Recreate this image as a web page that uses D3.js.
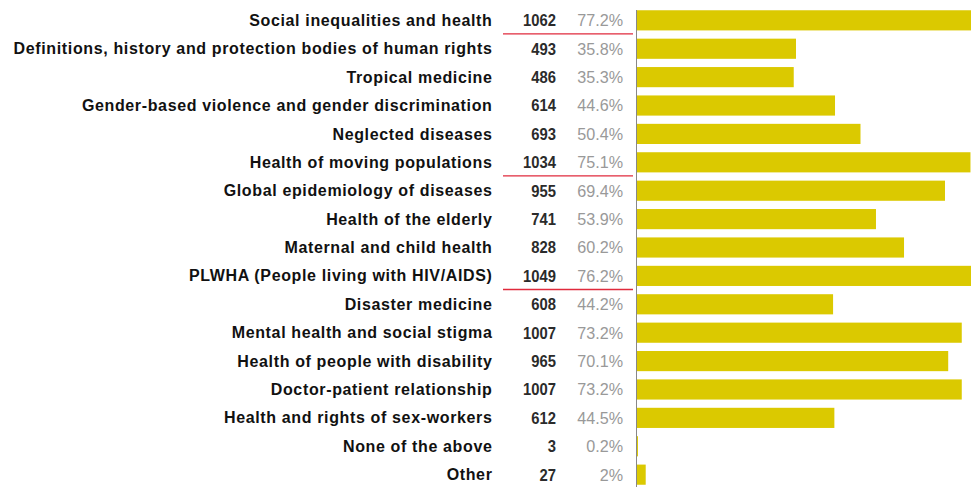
<!DOCTYPE html>
<html>
<head>
<meta charset="utf-8">
<script src="https://cdn.jsdelivr.net/npm/d3@7"></script>
<style>
  html, body { margin: 0; padding: 0; background: #fff; }
  svg { display: block; }
</style>
</head>
<body>
<svg id="chart" width="971" height="487"></svg>
<script>
// Topics and how many respondents chose each one
const topics = [
  "Social inequalities and health",
  "Definitions, history and protection bodies of human rights",
  "Tropical medicine",
  "Gender-based violence and gender discrimination",
  "Neglected diseases",
  "Health of moving populations",
  "Global epidemiology of diseases",
  "Health of the elderly",
  "Maternal and child health",
  "PLWHA (People living with HIV/AIDS)",
  "Disaster medicine",
  "Mental health and social stigma",
  "Health of people with disability",
  "Doctor-patient relationship",
  "Health and rights of sex-workers",
  "None of the above",
  "Other"
];
const counts = [1062, 493, 486, 614, 693, 1034, 955, 741, 828, 1049, 608, 1007, 965, 1007, 612, 3, 27];
const percents = ["77.2%", "35.8%", "35.3%", "44.6%", "50.4%", "75.1%", "69.4%", "53.9%", "60.2%", "76.2%", "44.2%", "73.2%", "70.1%", "73.2%", "44.5%", "0.2%", "2%"];
// Rows followed by a red separator rule
const underlined = [0, 5, 9];

const svg = d3.select("#chart");
const axisX = 637;

const y = d3.scaleBand()
  .domain(d3.range(topics.length))
  .range([6, 489])
  .paddingInner(0.29)
  .paddingOuter(0.15);

const x = d3.scaleLinear()
  .domain([0, 1000])
  .range([axisX, axisX + 322.5]);

const font = "'Liberation Sans', Arial, sans-serif";

const rows = svg.append("g").selectAll("g")
  .data(topics.map((t, i) => ({ t, i, c: counts[i], p: percents[i] })))
  .join("g");

// bars
rows.append("rect")
  .attr("x", axisX)
  .attr("y", d => y(d.i))
  .attr("width", d => x(d.c) - axisX)
  .attr("height", y.bandwidth())
  .attr("fill", "#dbc900");

const mid = d => y(d.i) + y.bandwidth() / 2;

// topic labels
rows.append("text")
  .attr("x", 492.5)
  .attr("y", mid)
  .attr("dy", "0.35em")
  .attr("text-anchor", "end")
  .attr("font-family", font)
  .attr("font-weight", "bold")
  .attr("font-size", 16)
  .attr("letter-spacing", 0.64)
  .attr("fill", "#111")
  .text(d => d.t);

// counts, slightly condensed
rows.append("text")
  .attr("transform", d => `translate(556,${mid(d)}) scale(0.87,1)`)
  .attr("dy", "0.35em")
  .attr("text-anchor", "end")
  .attr("font-family", font)
  .attr("font-weight", "bold")
  .attr("font-size", 17)
  .attr("fill", "#2b2b2b")
  .text(d => d.c);

// percentages
rows.append("text")
  .attr("transform", d => `translate(623,${mid(d)}) scale(0.95,1)`)
  .attr("dy", "0.35em")
  .attr("text-anchor", "end")
  .attr("font-family", font)
  .attr("font-size", 17)
  .attr("fill", "#999")
  .text(d => d.p);

// separator rules
svg.append("g").selectAll("line")
  .data(underlined)
  .join("line")
  .attr("x1", 503)
  .attr("x2", 633)
  .attr("y1", i => y(i) + y.bandwidth() + 3.5)
  .attr("y2", i => y(i) + y.bandwidth() + 3.5)
  .attr("stroke", "#e02a3c")
  .attr("stroke-width", 1.3);

// category axis line
svg.append("line")
  .attr("x1", axisX - 0.5)
  .attr("x2", axisX - 0.5)
  .attr("y1", 10)
  .attr("y2", 487)
  .attr("stroke", "#888")
  .attr("stroke-width", 1);
</script>
</body>
</html>
